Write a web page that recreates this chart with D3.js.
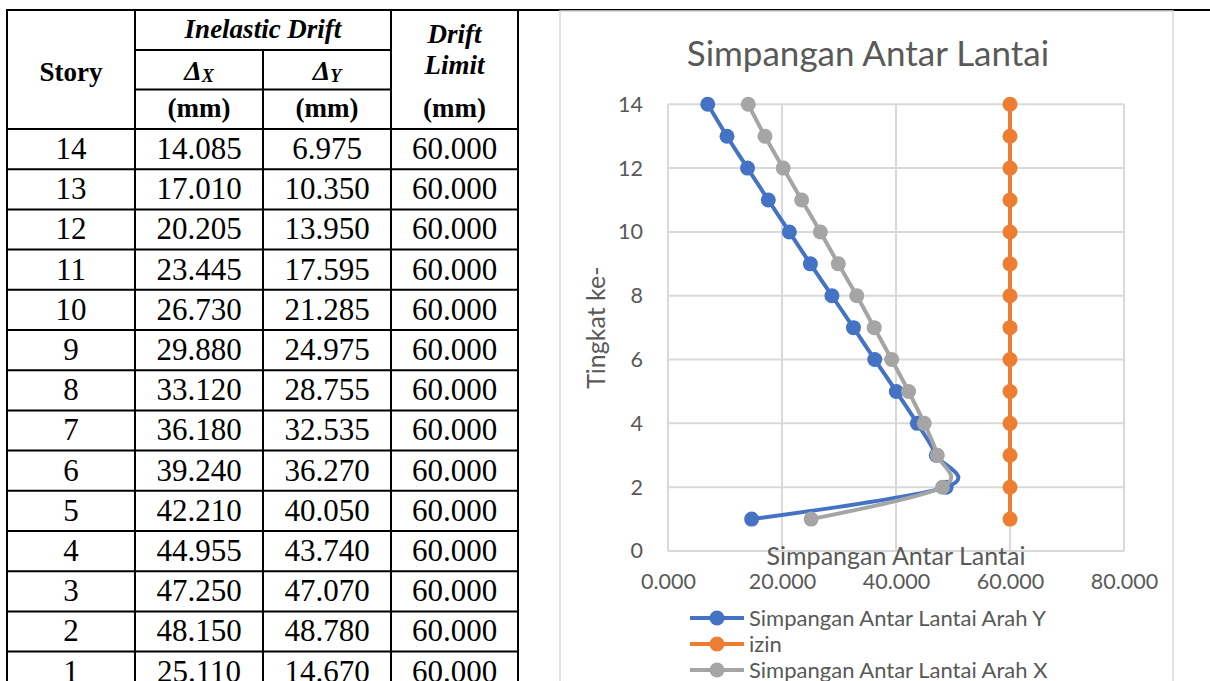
<!DOCTYPE html>
<html>
<head>
<meta charset="utf-8">
<script src="https://cdnjs.cloudflare.com/ajax/libs/d3/7.8.5/d3.min.js"></script>
<style>
  body { margin: 0; background: #fff; }
  svg { display: block; }
  .serif { font-family: "Liberation Serif", "Times New Roman", serif; fill: #000; }
  .sans { font-family: Lato, "Open Sans", sans-serif; fill: #595959; }
</style>
</head>
<body>
<svg id="page"></svg>
<script>
var stories = [14, 13, 12, 11, 10, 9, 8, 7, 6, 5, 4, 3, 2, 1];
var driftX = [14.085, 17.010, 20.205, 23.445, 26.730, 29.880, 33.120, 36.180, 39.240, 42.210, 44.955, 47.250, 48.150, 25.110];
var driftY = [6.975, 10.350, 13.950, 17.595, 21.285, 24.975, 28.755, 32.535, 36.270, 40.050, 43.740, 47.070, 48.780, 14.670];
var driftLimit = [60, 60, 60, 60, 60, 60, 60, 60, 60, 60, 60, 60, 60, 60];

var xTicks = [0, 20, 40, 60, 80];
var yTicks = [0, 2, 4, 6, 8, 10, 12, 14];

var seriesNames = ["Simpangan Antar Lantai Arah Y", "izin", "Simpangan Antar Lantai Arah X"];
var seriesColors = ["#4472C4", "#ED7D31", "#A5A5A5"];
var chartTitle = "Simpangan Antar Lantai";
var xTitle = "Simpangan Antar Lantai";
var yTitle = "Tingkat ke-";

var W = 1210, H = 681;
var fmt = d3.format(".3f");

var svg = d3.select("#page").attr("width", W).attr("height", H);

// ---- table on the left ----
var cols = [7, 135, 263, 391, 518];
var headLines = [10, 50, 89.5, 129];
var rowH = 40.2;
var tableTop = headLines[3];
var mid = function(i) { return (cols[i] + cols[i + 1]) / 2; };

var table = svg.append("g").attr("class", "table");

// vertical rules (the one between the deltas starts under the merged cell)
table.selectAll("line.v").
  data(cols).
  enter().append("line").
  attr("class", "v").
  attr("x1", function(d) { return d; }).
  attr("x2", function(d) { return d; }).
  attr("y1", function(d, i) { return i === 2 ? headLines[1] : 9; }).
  attr("y2", H).
  attr("stroke", "#000").
  attr("stroke-width", 2);

// top rule runs across the whole page
table.append("line").
  attr("x1", 6).attr("x2", W).
  attr("y1", headLines[0]).attr("y2", headLines[0]).
  attr("stroke", "#000").attr("stroke-width", 2);

// header inner rules under "Inelastic Drift" and the deltas
[headLines[1], headLines[2]].forEach(function(y) {
  table.append("line").
    attr("x1", cols[1]).attr("x2", cols[3]).
    attr("y1", y).attr("y2", y).
    attr("stroke", "#000").attr("stroke-width", 2);
});

// row rules
var rowLines = [tableTop];
for (var i = 1; i <= stories.length; i++) rowLines.push(tableTop + i * rowH);
table.selectAll("line.h").
  data(rowLines).
  enter().append("line").
  attr("class", "h").
  attr("x1", cols[0]).attr("x2", cols[4]).
  attr("y1", function(d) { return d; }).
  attr("y2", function(d) { return d; }).
  attr("stroke", "#000").
  attr("stroke-width", 2);

var headText = function(x, y, txt, italic) {
  return table.append("text").
    attr("class", "serif").
    attr("x", x).attr("y", y).
    attr("text-anchor", "middle").
    attr("font-size", 27).
    attr("font-weight", "bold").
    attr("font-style", italic ? "italic" : "normal").
    text(txt);
};

headText(mid(0), 81, "Story", false);
headText(cols[2], 38, "Inelastic Drift", true);
headText(mid(3), 43, "Drift", true);
headText(mid(3), 74, "Limit", true);
headText(mid(1), 117, "(mm)", false);
headText(mid(2), 117, "(mm)", false);
headText(mid(3), 117, "(mm)", false);

["X", "Y"].forEach(function(s, k) {
  var t = table.append("text").
    attr("class", "serif").
    attr("x", mid(1 + k)).attr("y", 80).
    attr("text-anchor", "middle").
    attr("font-weight", "bold").
    attr("font-style", "italic");
  t.append("tspan").attr("font-size", 28).text("\u0394");
  t.append("tspan").attr("font-size", 18).attr("dy", 2).text(s);
});

var rows = table.selectAll("g.row").
  data(stories).
  enter().append("g").
  attr("class", "row").
  attr("transform", function(d, i) { return "translate(0," + (tableTop + i * rowH + 30) + ")"; });

var cellText = function(col, fn) {
  rows.append("text").
    attr("class", "serif").
    attr("x", mid(col)).
    attr("text-anchor", "middle").
    attr("font-size", 31).
    text(fn);
};
cellText(0, function(d) { return d; });
cellText(1, function(d, i) { return fmt(driftX[i]); });
cellText(2, function(d, i) { return fmt(driftY[i]); });
cellText(3, function(d, i) { return fmt(driftLimit[i]); });

// ---- chart on the right ----
var chart = svg.append("g").attr("class", "chart");

chart.append("rect").
  attr("x", 560).attr("y", 11).
  attr("width", 613).attr("height", 700).
  attr("fill", "#fff").
  attr("stroke", "#d9d9d9").
  attr("stroke-width", 1.5);

var xScale = d3.scaleLinear().domain([0, 80]).range([668, 1124]);
var yScale = d3.scaleLinear().domain([0, 14]).range([551, 104.3]);

chart.selectAll("line.gx").
  data(xTicks).
  enter().append("line").
  attr("x1", function(d) { return xScale(d); }).
  attr("x2", function(d) { return xScale(d); }).
  attr("y1", yScale(0)).attr("y2", yScale(14)).
  attr("stroke", "#d9d9d9").attr("stroke-width", 2);

chart.selectAll("line.gy").
  data(yTicks).
  enter().append("line").
  attr("x1", xScale(0)).attr("x2", xScale(80)).
  attr("y1", function(d) { return yScale(d); }).
  attr("y2", function(d) { return yScale(d); }).
  attr("stroke", "#d9d9d9").attr("stroke-width", 2);

var yAxis = d3.axisLeft(yScale).tickValues(yTicks).tickSize(0).tickPadding(25);
var xAxis = d3.axisBottom(xScale).tickValues(xTicks).tickFormat(fmt).tickSize(0).tickPadding(23);

var gY = chart.append("g").
  attr("transform", "translate(" + xScale(0) + ",0)").
  call(yAxis);
var gX = chart.append("g").
  attr("transform", "translate(0," + yScale(0) + ")").
  call(xAxis);

[gX, gY].forEach(function(g) {
  g.select(".domain").remove();
  g.selectAll("text").
    attr("class", "sans").
    attr("font-size", 21.5).
    attr("fill", "#595959");
});

var series = [driftY, driftLimit, driftX].map(function(vals, k) {
  return {
    name: seriesNames[k],
    color: seriesColors[k],
    pts: vals.map(function(v, i) { return { v: v, s: stories[i] }; })
  };
});

// excel "smoothed line" ~ uniform catmull-rom
var line = d3.line().
  x(function(d) { return xScale(d.v); }).
  y(function(d) { return yScale(d.s); }).
  curve(d3.curveCatmullRom.alpha(0));

series.forEach(function(s) {
  chart.append("path").
    datum(s.pts).
    attr("fill", "none").
    attr("stroke", s.color).
    attr("stroke-width", 4).
    attr("d", line);
  chart.selectAll(null).
    data(s.pts).
    enter().append("circle").
    attr("cx", function(d) { return xScale(d.v); }).
    attr("cy", function(d) { return yScale(d.s); }).
    attr("r", 7.5).
    attr("fill", s.color);
});

chart.append("text").
  attr("class", "sans").
  attr("x", 868).attr("y", 66).
  attr("text-anchor", "middle").
  attr("font-size", 35).
  text(chartTitle);

chart.append("text").
  attr("class", "sans").
  attr("x", (xScale(0) + xScale(80)) / 2).attr("y", 565).
  attr("text-anchor", "middle").
  attr("font-size", 25).
  text(xTitle);

chart.append("text").
  attr("class", "sans").
  attr("transform", "translate(605," + (yScale(0) + yScale(14)) / 2 + ") rotate(-90)").
  attr("text-anchor", "middle").
  attr("font-size", 25).
  text(yTitle);

var legend = chart.selectAll("g.legend").
  data(series).
  enter().append("g").
  attr("class", "legend").
  attr("transform", function(d, i) { return "translate(0," + (618 + i * 26) + ")"; });

legend.append("line").
  attr("x1", 690).attr("x2", 744).
  attr("stroke", function(d) { return d.color; }).
  attr("stroke-width", 4);
legend.append("circle").
  attr("cx", 717).attr("r", 7.5).
  attr("fill", function(d) { return d.color; });
legend.append("text").
  attr("class", "sans").
  attr("x", 749).attr("dy", "0.35em").
  attr("font-size", 22).
  text(function(d) { return d.name; });
</script>
</body>
</html>
